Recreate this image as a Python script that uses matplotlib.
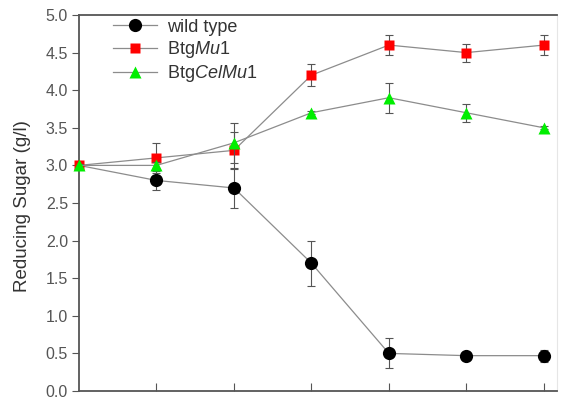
import numpy as np
import matplotlib.pyplot as plt
from matplotlib.lines import Line2D

plt.rcParams['font.family'] = ['Liberation Sans', 'DejaVu Sans']
plt.rcParams['mathtext.fontset'] = 'custom'
plt.rcParams['mathtext.rm'] = 'Liberation Sans'
plt.rcParams['mathtext.it'] = 'Liberation Sans:italic'

# data
days = [0, 1, 2, 3, 4, 5, 6]
wild = [3.0, 2.8, 2.7, 1.7, 0.5, 0.47, 0.47]
wild_err = [0.02, 0.13, 0.27, 0.3, 0.2, 0.03, 0.08]
mu1 = [3.0, 3.1, 3.2, 4.2, 4.6, 4.5, 4.6]
mu1_err = [0.02, 0.2, 0.25, 0.15, 0.13, 0.12, 0.13]
cel = [3.0, 3.0, 3.3, 3.7, 3.9, 3.7, 3.5]
cel_err = [0.02, 0.05, 0.27, 0.02, 0.2, 0.12, 0.02]

fig = plt.figure(figsize=(5.61, 4.01), dpi=100)
ax = fig.add_axes([79/561, 10/401, (557-79)/561, 376/401])

line_c = '#8c8c8c'
err_c = '#555555'
series = [
    (wild, wild_err, 'o', 9.5, 'black', 'wild type', range(1, 7)),
    (mu1, mu1_err, 's', 7.5, '#ff0000', 'Btg$\\it{Mu}$1', None),
    (cel, cel_err, '^', 9, '#00ee00', 'Btg$\\it{CelMu}$1', None),
]
handles = []
for i, (vals, err, mk, ms, fc, lab, every) in enumerate(series):
    ax.errorbar(days, vals, yerr=err, fmt='none', ecolor=err_c, elinewidth=0.8,
                capsize=3, capthick=0.8, zorder=2 + i)
    ax.plot(days, vals, color=line_c, lw=0.9, marker=mk, ms=ms, markerfacecolor=fc,
            markeredgecolor='none', zorder=3 + i, clip_on=False, markevery=every)
    handles.append(Line2D([], [], color=line_c, lw=0.9, marker=mk, ms=ms,
                          markerfacecolor=fc, markeredgecolor='none', label=lab))

ax.set_xlim(0, 6.17)
ax.set_ylim(0, 5.0)
ax.set_yticks(np.arange(0, 5.01, 0.5))
ax.set_yticklabels(['%.1f' % v for v in np.arange(0, 5.01, 0.5)], color='#555555', fontsize=11.5)
ax.set_xticks(days[1:])
ax.set_xticklabels([])
ax.tick_params(axis='y', direction='out', length=5, width=0.8, color='#555555', pad=3)
ax.tick_params(axis='x', direction='in', length=6, width=0.8, color='#555555')
ax.set_ylabel('Reducing Sugar (g/l)', fontsize=13.5, color='#333333')
ax.yaxis.set_label_coords(-48/478, (391-206)/376)

for s in ['left', 'bottom', 'top']:
    ax.spines[s].set_color('#555555')
    ax.spines[s].set_linewidth(1.3)
ax.spines['right'].set_color('#e6e6e6')
ax.spines['right'].set_linewidth(0.8)

leg = ax.legend(handles=handles, loc='upper left', bbox_to_anchor=(0.071, 0.99),
                frameon=False, fontsize=13, handlelength=2.45, labelspacing=0.17,
                handletextpad=0.55, borderpad=0, borderaxespad=0)
for t in leg.get_texts():
    t.set_color('#333333')

fig.savefig('out.png', dpi=100)
